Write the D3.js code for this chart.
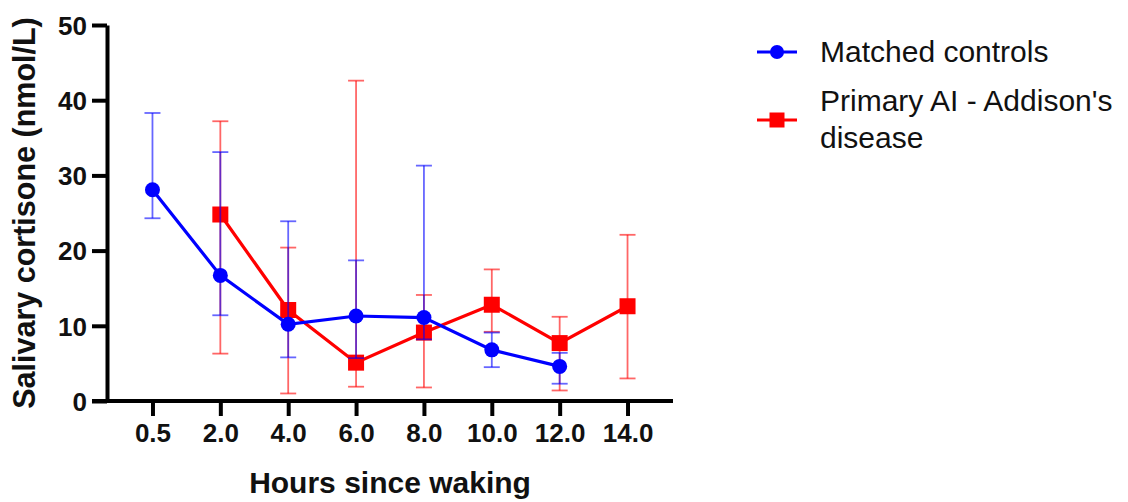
<!DOCTYPE html>
<html>
<head>
<meta charset="utf-8">
<script src="https://cdn.jsdelivr.net/npm/d3@7"></script>
<style>
  html, body { margin: 0; padding: 0; background: #fff; }
  svg { display: block; font-family: "Liberation Sans", Arial, sans-serif; }
</style>
</head>
<body>
<svg id="chart" width="1128" height="502"></svg>
<script>
// Sampling times (hours since waking)
const hours = ["0.5", "2.0", "4.0", "6.0", "8.0", "10.0", "12.0", "14.0"];
const yTicks = [0, 10, 20, 30, 40, 50];

// Matched controls: median with range bars
const controlHours = ["0.5", "2.0", "4.0", "6.0", "8.0", "10.0", "12.0"];
const controlMid   = [28.1, 16.7, 10.2, 11.3, 11.1, 6.8, 4.6];
const controlLow   = [24.3, 11.4, 5.8, 5.7, 8.2, 4.5, 2.3];
const controlHigh  = [38.3, 33.1, 23.9, 18.7, 31.3, 9.1, 6.4];

// Primary AI - Addison's disease
const addisonHours = ["2.0", "4.0", "6.0", "8.0", "10.0", "12.0", "14.0"];
const addisonMid   = [24.8, 12.1, 5.1, 9.1, 12.8, 7.7, 12.6];
const addisonLow   = [6.3, 1.0, 1.9, 1.8, 9.2, 1.4, 3.0];
const addisonHigh  = [37.2, 20.4, 42.6, 14.1, 17.5, 11.2, 22.1];

const seriesNames = ["Matched controls", "Primary AI - Addison's disease"];

const svg = d3.select("#chart");
const plotLeft = 107, plotRight = 673, plotTop = 25, plotBottom = 401;

const x = d3.scalePoint().domain(hours).range([plotLeft, plotRight]).padding(0.67);
const y = d3.scaleLinear().domain([0, 50]).range([plotBottom, plotTop]);

const series = [
  { name: seriesNames[1], color: "#ff0000", shape: "square",
    data: addisonHours.map((h, i) => ({ h, v: addisonMid[i], lo: addisonLow[i], hi: addisonHigh[i] })) },
  { name: seriesNames[0], color: "#0000ff", shape: "circle",
    data: controlHours.map((h, i) => ({ h, v: controlMid[i], lo: controlLow[i], hi: controlHigh[i] })) }
];

// Axes
const yAxis = svg.append("g")
  .attr("transform", `translate(${plotLeft},0)`)
  .call(d3.axisLeft(y).tickValues(yTicks).tickSize(15).tickPadding(5).tickSizeOuter(0));
const xAxis = svg.append("g")
  .attr("transform", `translate(0,${plotBottom})`)
  .call(d3.axisBottom(x).tickSize(15).tickPadding(8).tickSizeOuter(0));

[yAxis, xAxis].forEach(g => {
  g.select(".domain").attr("stroke", "#000").attr("stroke-width", 4);
  g.selectAll(".tick line").attr("stroke", "#000").attr("stroke-width", 4);
  g.selectAll(".tick text")
    .attr("fill", "#111")
    .style("font-size", "26px")
    .style("font-weight", "bold")
    .style("font-family", "'Liberation Sans', Arial, sans-serif");
});
// extend the x axis line to the left end of the y axis ticks
xAxis.select(".domain").attr("d", `M${plotLeft - 15},0H${plotRight}`);
yAxis.selectAll(".tick text").attr("dy", "0.36em");

// Axis titles
svg.append("text")
  .attr("x", (plotLeft + plotRight) / 2).attr("y", 493)
  .attr("text-anchor", "middle")
  .style("font-size", "30px").style("font-weight", "bold").attr("fill", "#111")
  .text("Hours since waking");
svg.append("text")
  .attr("transform", `translate(35,${(plotTop + plotBottom) / 2}) rotate(-90)`)
  .attr("text-anchor", "middle")
  .style("font-size", "30.5px").style("font-weight", "bold").attr("fill", "#111")
  .text("Salivary cortisone (nmol/L)");

const line = d3.line().x(d => x(d.h)).y(d => y(d.v));
const capHalf = 8;

function drawMarker(g, shape, cx, cy, color, size) {
  if (shape === "circle") {
    g.append("circle").attr("cx", cx).attr("cy", cy).attr("r", size / 2).attr("fill", color);
  } else {
    g.append("rect").attr("x", cx - size / 2).attr("y", cy - size / 2)
      .attr("width", size).attr("height", size).attr("fill", color);
  }
}

series.forEach(s => {
  const g = svg.append("g");
  // range bars
  const eb = g.append("g").attr("stroke", s.color).attr("stroke-width", 1.8).attr("stroke-opacity", 0.6);
  s.data.forEach(d => {
    const cx = x(d.h);
    eb.append("line").attr("x1", cx).attr("x2", cx).attr("y1", y(d.lo)).attr("y2", y(d.hi));
    eb.append("line").attr("x1", cx - capHalf).attr("x2", cx + capHalf).attr("y1", y(d.lo)).attr("y2", y(d.lo));
    eb.append("line").attr("x1", cx - capHalf).attr("x2", cx + capHalf).attr("y1", y(d.hi)).attr("y2", y(d.hi));
  });
  g.append("path").datum(s.data).attr("d", line)
    .attr("fill", "none").attr("stroke", s.color).attr("stroke-width", 3.2);
  s.data.forEach(d => drawMarker(g, s.shape, x(d.h), y(d.v), s.color, s.shape === "circle" ? 15 : 16));
});

// Legend
const legend = [
  { lines: ["Matched controls"], color: "#0000ff", shape: "circle", y: 52, textY: 62 },
  { lines: ["Primary AI - Addison's", "disease"], color: "#ff0000", shape: "square", y: 120, textY: 111 }
];
legend.forEach(item => {
  const g = svg.append("g");
  g.append("line").attr("x1", 757).attr("x2", 797).attr("y1", item.y).attr("y2", item.y)
    .attr("stroke", item.color).attr("stroke-width", 3);
  drawMarker(g, item.shape, 777, item.y, item.color, item.shape === "circle" ? 14 : 15);
  const t = g.append("text").attr("x", 820).attr("y", item.textY)
    .style("font-size", "30px").attr("fill", "#111");
  item.lines.forEach((ln, i) => {
    t.append("tspan").attr("x", 820).attr("dy", i === 0 ? 0 : 37).text(ln);
  });
});
</script>
</body>
</html>
